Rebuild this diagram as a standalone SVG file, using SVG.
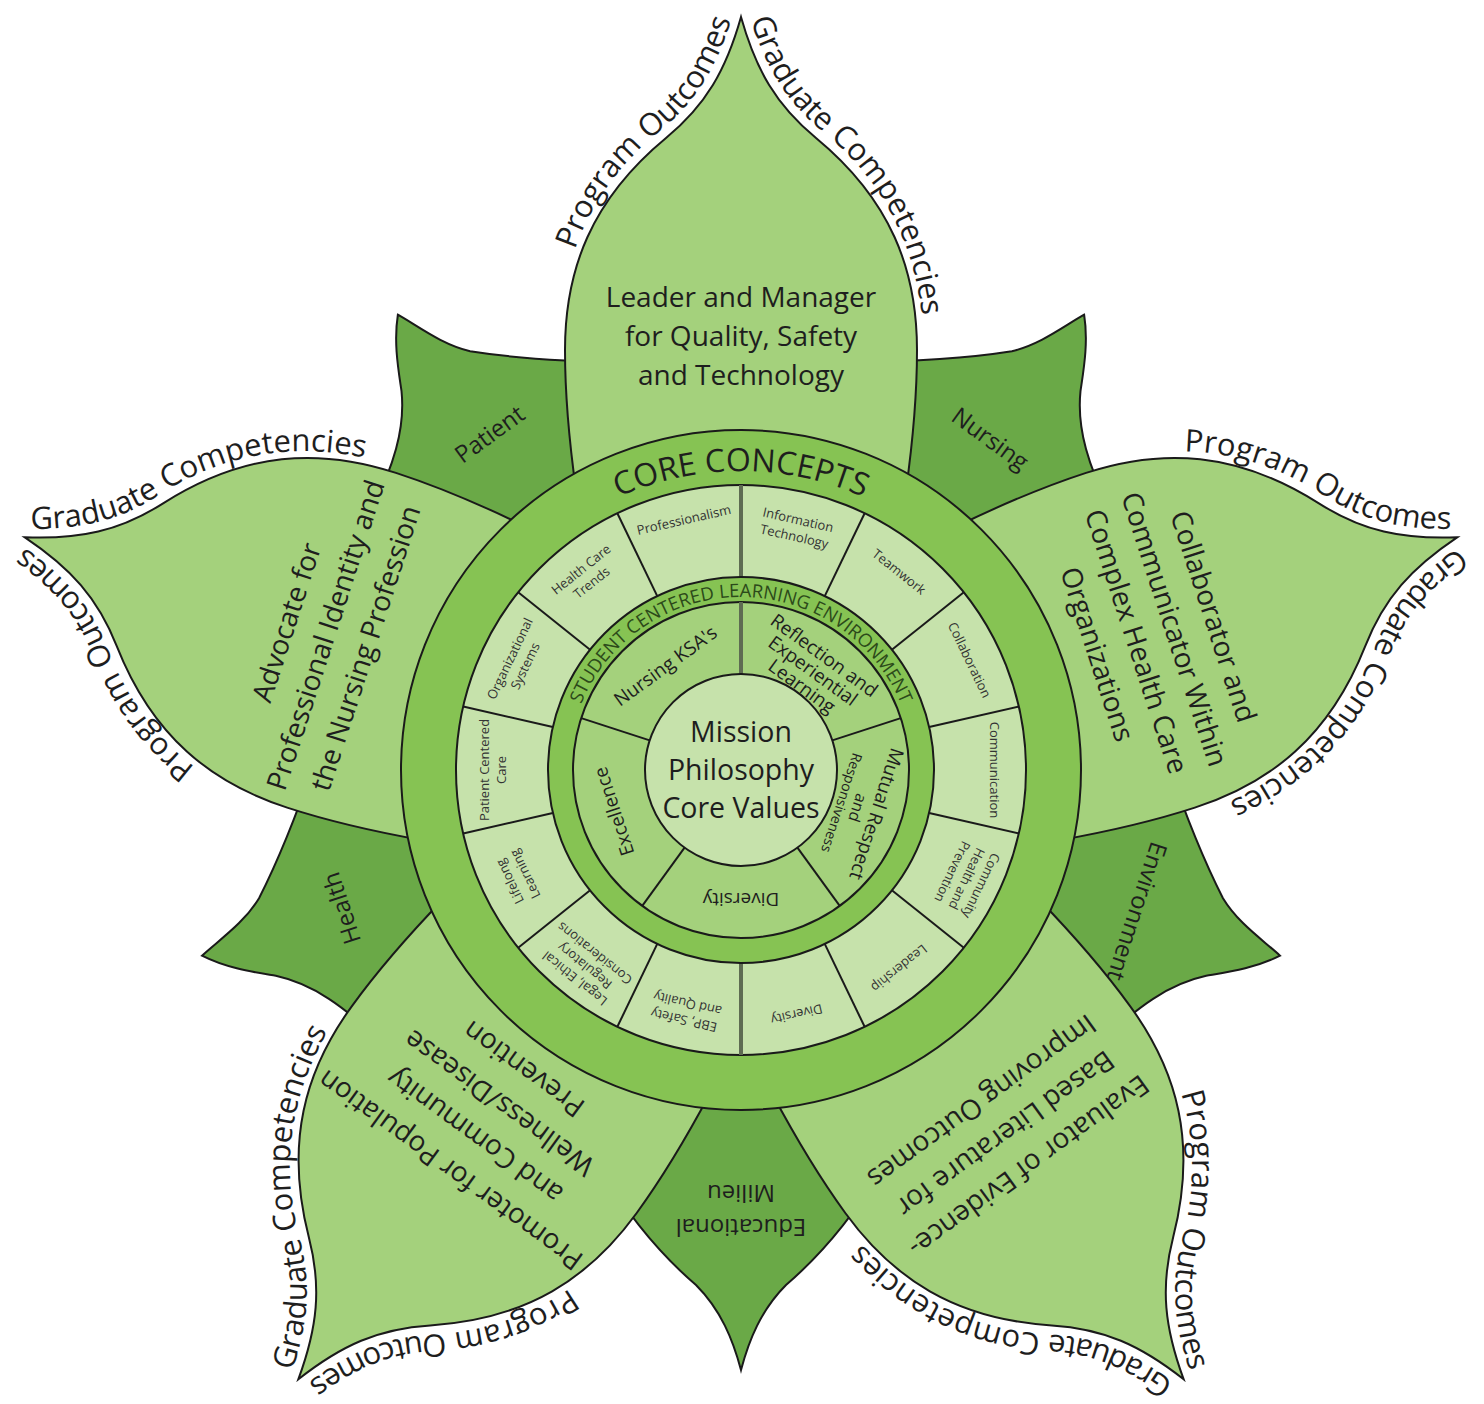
<svg xmlns="http://www.w3.org/2000/svg" width="1484" height="1404" viewBox="0 0 1484 1404">
<style>
.pt{fill:#a4d17c;stroke:#1a1a1a;stroke-width:2}
.lf{fill:#6aa947;stroke:#1a1a1a;stroke-width:2}
.band{fill:#86c353;stroke:#1a1a1a;stroke-width:2}
.pale{fill:#c6e2ab;stroke:#1a1a1a;stroke-width:2}
.mid{fill:#a4d17c;stroke:#1a1a1a;stroke-width:2}
.dv{stroke:#1a1a1a;stroke-width:2}
.thick{stroke:#5e6c52;stroke-width:4}
text{font-family:"Open Sans","Noto Sans","Liberation Sans",sans-serif;fill:#1e1e1e}
.out{font-size:31px}
.pet{font-size:28px;text-anchor:middle}
.leaf{font-size:24px;text-anchor:middle}
.cc{font-size:13px;text-anchor:middle;fill:#333}
.in{font-size:19px;text-anchor:middle}
.ctr{font-size:28.5px;text-anchor:middle}
.core{font-size:32px;text-anchor:middle}
.stu{font-size:18.5px;text-anchor:middle;fill:#2c4a1a}
</style>
<defs>
<path id="petal" d="M 0 -753 C -15 -700 -35 -665 -75 -632 C -150 -570 -176 -500 -176 -420 C -176 -370 -172 -330 -165 -280 L -100 -200 L 100 -200 L 165 -280 C 172 -330 176 -370 176 -420 C 176 -500 150 -570 75 -632 C 35 -665 15 -700 0 -753 Z"/>
<path id="leafA" d="M 10 -570 C 0 -548 -8 -520 -27 -498 C -55 -470 -100 -432 -150 -395 L -120 -280 L 120 -280 L 160 -420 C 100 -450 70 -475 52 -506 C 42 -525 30 -550 10 -570 Z"/>
<path id="leafB" d="M 0 -600 C 8 -570 20 -540 45 -515 C 80 -485 110 -450 140 -400 L 60 -250 L -60 -250 L -140 -400 C -110 -450 -80 -485 -45 -515 C -20 -540 -8 -570 0 -600 Z"/>
<path id="tpL" d="M -184 -400 C -184 -500 -157 -577 -80 -640 C -42 -671 -22 -708 -6 -762"/>
<path id="tpR" d="M 6 -762 C 22 -708 42 -671 80 -640 C 157 -577 184 -500 184 -400"/>
<path id="arcCore" d="M -299 0 A 299 299 0 0 1 299 0"/>
<path id="arcStu" d="M -173 0 A 173 173 0 0 1 173 0"/>
</defs>
<rect width="1484" height="1404" fill="#ffffff"/>
<g transform="translate(741 770)">
<g id="leaves">
<g id="leaf-nursing" transform="rotate(36)"><use href="#leafA" class="lf"/><text class="leaf" x="7" y="-406">Nursing</text></g>
<g id="leaf-environment" transform="rotate(108)"><use href="#leafA" class="lf"/><text class="leaf" x="12" y="-412">Environment</text></g>
<g id="leaf-educational-milieu" transform="rotate(180)"><use href="#leafB" class="lf"/><text class="leaf" x="0" y="-449">Educational</text><text class="leaf" x="0" y="-415">Milieu</text></g>
<g id="leaf-health" transform="rotate(252)"><g transform="scale(-1 1)"><use href="#leafA" class="lf"/></g><text class="leaf" x="-8" y="-414">Health</text></g>
<g id="leaf-patient" transform="rotate(324)"><g transform="scale(-1 1)"><use href="#leafA" class="lf"/></g><text class="leaf" x="-6" y="-411">Patient</text></g>
</g>
<g id="petals">
<g id="petal-leader" transform="rotate(0)"><use href="#petal" class="pt"/>
<text class="out" text-anchor="end"><textPath href="#tpL" startOffset="97%">Program Outcomes</textPath></text>
<text class="out"><textPath href="#tpR" startOffset="3%">Graduate Competencies</textPath></text>
<text class="pet" y="-463">Leader and Manager</text><text class="pet" y="-424">for Quality, Safety</text><text class="pet" y="-385">and Technology</text></g>
<g id="petal-collaborator" transform="rotate(72)"><use href="#petal" class="pt"/>
<text class="out" text-anchor="end"><textPath href="#tpL" startOffset="97%">Program Outcomes</textPath></text>
<text class="out"><textPath href="#tpR" startOffset="3%">Graduate Competencies</textPath></text>
<text class="pet" y="-487">Collaborator and</text><text class="pet" y="-446">Communicator Within</text><text class="pet" y="-406">Complex Health Care</text><text class="pet" y="-365">Organizations</text></g>
<g id="petal-evaluator" transform="rotate(144)"><use href="#petal" class="pt"/>
<text class="out" text-anchor="end"><textPath href="#tpL" startOffset="97%">Program Outcomes</textPath></text>
<text class="out"><textPath href="#tpR" startOffset="3%">Graduate Competencies</textPath></text>
<text class="pet" y="-480">Evaluator of Evidence-</text><text class="pet" y="-440">Based Literature for</text><text class="pet" y="-400">Improving Outcomes</text></g>
<g id="petal-promoter" transform="rotate(216)"><use href="#petal" class="pt"/>
<text class="out" text-anchor="end"><textPath href="#tpL" startOffset="97%">Program Outcomes</textPath></text>
<text class="out"><textPath href="#tpR" startOffset="3%">Graduate Competencies</textPath></text>
<text class="pet" y="-485">Promoter for Population</text><text class="pet" y="-443">and Community</text><text class="pet" y="-402">Wellness/Disease</text><text class="pet" y="-360">Prevention</text></g>
<g id="petal-advocate" transform="rotate(288)"><use href="#petal" class="pt"/>
<text class="out" text-anchor="end"><textPath href="#tpL" startOffset="97%">Program Outcomes</textPath></text>
<text class="out"><textPath href="#tpR" startOffset="3%">Graduate Competencies</textPath></text>
<text class="pet" y="-468">Advocate for</text><text class="pet" y="-427">Professional Identity and</text><text class="pet" y="-385">the Nursing Profession</text></g>
</g>
<g id="core-concepts">
<circle r="340" class="band"/>
<text class="core"><textPath href="#arcCore" startOffset="50%">CORE CONCEPTS</textPath></text>
<circle r="285" class="pale"/>
</g>
<g id="connectors">
<line class="dv" transform="rotate(25.714)" x1="0" y1="-193" x2="0" y2="-285"/>
<line class="dv" transform="rotate(51.429)" x1="0" y1="-193" x2="0" y2="-285"/>
<line class="dv" transform="rotate(77.143)" x1="0" y1="-193" x2="0" y2="-285"/>
<line class="dv" transform="rotate(102.857)" x1="0" y1="-193" x2="0" y2="-285"/>
<line class="dv" transform="rotate(128.571)" x1="0" y1="-193" x2="0" y2="-285"/>
<line class="dv" transform="rotate(154.286)" x1="0" y1="-193" x2="0" y2="-285"/>
<line class="dv" transform="rotate(205.714)" x1="0" y1="-193" x2="0" y2="-285"/>
<line class="dv" transform="rotate(231.429)" x1="0" y1="-193" x2="0" y2="-285"/>
<line class="dv" transform="rotate(257.143)" x1="0" y1="-193" x2="0" y2="-285"/>
<line class="dv" transform="rotate(282.857)" x1="0" y1="-193" x2="0" y2="-285"/>
<line class="dv" transform="rotate(308.571)" x1="0" y1="-193" x2="0" y2="-285"/>
<line class="dv" transform="rotate(334.286)" x1="0" y1="-193" x2="0" y2="-285"/>
<line class="thick" x1="0" y1="-193" x2="0" y2="-285"/>
<line class="thick" x1="0" y1="193" x2="0" y2="285"/>
</g>
<g id="core-concept-labels">
<g transform="rotate(12.857)"><text class="cc" y="-252">Information</text><text class="cc" y="-235">Technology</text></g>
<g transform="rotate(38.571)"><text class="cc" y="-249">Teamwork</text></g>
<g transform="rotate(64.286)"><text class="cc" y="-249">Collaboration</text></g>
<g transform="rotate(90)"><text class="cc" y="-249">Communication</text></g>
<g transform="rotate(115.714)"><text class="cc" y="-262">Community</text><text class="cc" y="-246">Health and</text><text class="cc" y="-230">Prevention</text></g>
<g transform="rotate(141.429)"><text class="cc" y="-249">Leadership</text></g>
<g transform="rotate(167.143)"><text class="cc" y="-246">Diversity</text></g>
<g transform="rotate(192.857)"><text class="cc" y="-252">EBP, Safety</text><text class="cc" y="-235">and Quality</text></g>
<g transform="rotate(218.571)"><text class="cc" y="-262">Legal, Ethical</text><text class="cc" y="-246">Regulatory</text><text class="cc" y="-230">Considerations</text></g>
<g transform="rotate(244.286)"><text class="cc" y="-252">Lifelong</text><text class="cc" y="-235">Learning</text></g>
<g transform="rotate(270)"><text class="cc" y="-252">Patient Centered</text><text class="cc" y="-235">Care</text></g>
<g transform="rotate(295.714)"><text class="cc" y="-252">Organizational</text><text class="cc" y="-235">Systems</text></g>
<g transform="rotate(321.429)"><text class="cc" y="-252">Health Care</text><text class="cc" y="-235">Trends</text></g>
<g transform="rotate(347.143)"><text class="cc" y="-252">Professionalism</text></g>
</g>
<g id="student-centered">
<circle r="193" class="band"/>
<text class="stu"><textPath href="#arcStu" startOffset="50%">STUDENT CENTERED LEARNING ENVIRONMENT</textPath></text>
<circle r="168" class="mid"/>
<line class="dv" transform="rotate(72)" x1="0" y1="-96" x2="0" y2="-168"/>
<line class="dv" transform="rotate(144)" x1="0" y1="-96" x2="0" y2="-168"/>
<line class="dv" transform="rotate(216)" x1="0" y1="-96" x2="0" y2="-168"/>
<line class="dv" transform="rotate(288)" x1="0" y1="-96" x2="0" y2="-168"/>
<line class="thick" x1="0" y1="-96" x2="0" y2="-168"/>
<g transform="rotate(324)"><text class="in" y="-122">Nursing KSA's</text></g>
<g transform="rotate(36)"><text class="in" y="-135">Reflection and</text><text class="in" y="-116">Experiential</text><text class="in" y="-97">Learning</text></g>
<g transform="rotate(108)"><text class="in" y="-136">Mutual Respect</text><text class="in" y="-117" style="font-size:16px">and</text><text class="in" y="-101" style="font-size:14px">Responsiveness</text></g>
<g transform="rotate(180)"><text class="in" y="-123">Diversity</text></g>
<g transform="rotate(252)"><text class="in" y="-127">Excellence</text></g>
</g>
<g id="center">
<circle r="96" class="pale"/>
<text class="ctr" y="-28">Mission</text>
<text class="ctr" y="10">Philosophy</text>
<text class="ctr" y="48">Core Values</text>
</g>
</g>
</svg>
